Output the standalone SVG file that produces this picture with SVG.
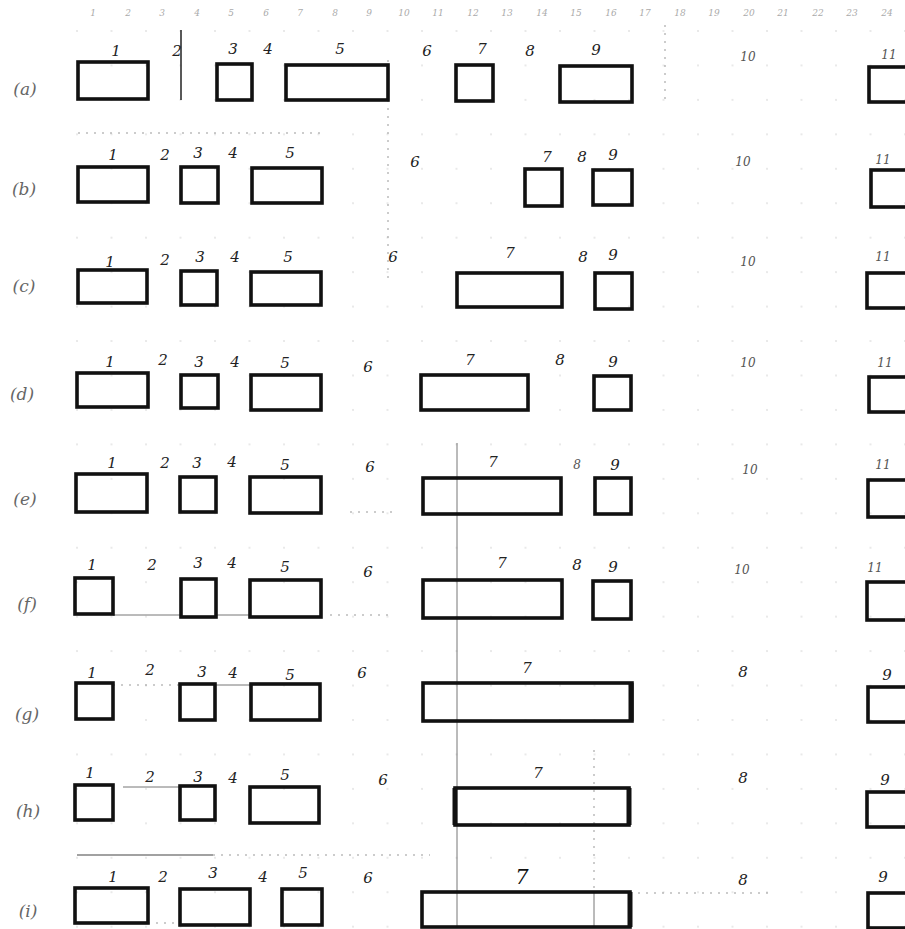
<svg xmlns="http://www.w3.org/2000/svg" width="905" height="929" viewBox="0 0 905 929">
<style>
.b{fill:none;stroke:#111;stroke-width:3.6;stroke-linejoin:miter}
.n{font-family:"DejaVu Serif","Liberation Serif",serif;font-style:italic;font-size:15px;fill:#222;text-anchor:middle}
.s{font-size:12px;fill:#555}
.r{font-family:"DejaVu Serif","Liberation Serif",serif;font-style:italic;font-size:17px;fill:#666;text-anchor:middle}
.t{font-family:"DejaVu Serif",serif;font-style:italic;font-size:9px;fill:#aaa;text-anchor:middle}
.g{stroke:#777;stroke-width:1;fill:none}
.d{stroke:#999;stroke-width:1;stroke-dasharray:2 6;fill:none}
</style>
<defs>
<pattern id="grid" patternUnits="userSpaceOnUse" x="7" y="30" width="34.5" height="34.45">
<circle cx="1" cy="1" r="0.7" fill="#c4c4c4"/>
</pattern>
</defs>
<rect width="905" height="929" fill="#fff"/>
<rect x="60" y="20" width="845" height="909" fill="url(#grid)"/>
<g id="scale">
<text class="t" x="93" y="16">1</text><text class="t" x="128" y="16">2</text><text class="t" x="162" y="16">3</text><text class="t" x="197" y="16">4</text><text class="t" x="231" y="16">5</text><text class="t" x="266" y="16">6</text><text class="t" x="300" y="16">7</text><text class="t" x="335" y="16">8</text><text class="t" x="369" y="16">9</text><text class="t" x="404" y="16">10</text><text class="t" x="438" y="16">11</text><text class="t" x="473" y="16">12</text><text class="t" x="507" y="16">13</text><text class="t" x="542" y="16">14</text><text class="t" x="576" y="16">15</text><text class="t" x="611" y="16">16</text><text class="t" x="645" y="16">17</text><text class="t" x="680" y="16">18</text><text class="t" x="714" y="16">19</text><text class="t" x="749" y="16">20</text><text class="t" x="783" y="16">21</text><text class="t" x="818" y="16">22</text><text class="t" x="852" y="16">23</text><text class="t" x="887" y="16">24</text>
</g>
<g id="connectors">
<line x1="181" y1="30" x2="181" y2="100" stroke="#222" stroke-width="1.5"/>
<line x1="388" y1="60" x2="388" y2="280" class="d"/>
<line x1="665" y1="25" x2="665" y2="100" class="d"/>
<line x1="457" y1="443" x2="457" y2="928" class="g"/>
<line x1="594" y1="750" x2="594" y2="892" class="d"/>
<line x1="594" y1="892" x2="594" y2="927" class="g"/>
<line x1="78" y1="133" x2="322" y2="133" class="d"/>
<line x1="77" y1="855" x2="213" y2="855" stroke="#444" stroke-width="1.2"/>
<line x1="213" y1="855" x2="430" y2="855" class="d"/>
<line x1="123" y1="787" x2="180" y2="787" class="g"/>
<line x1="113" y1="615" x2="181" y2="615" class="g"/>
<line x1="216" y1="615" x2="250" y2="615" class="g"/>
<line x1="330" y1="615" x2="392" y2="615" class="d"/>
<line x1="113" y1="685" x2="180" y2="685" class="d"/>
<line x1="215" y1="685" x2="251" y2="685" class="g"/>
<line x1="350" y1="512" x2="392" y2="512" class="d"/>
<line x1="630" y1="893" x2="770" y2="893" class="d"/>
<line x1="148" y1="923" x2="180" y2="923" class="d"/>
</g>
<g id="row-a">
<text class="r" x="25" y="95">(a)</text>
<g id="a1"><rect class="b" x="78" y="62" width="70" height="37"/><text class="n" x="116" y="56">1</text></g>
<text class="n" x="177" y="56">2</text>
<g id="a3"><rect class="b" x="217" y="64" width="35" height="36"/><text class="n" x="233" y="54">3</text></g>
<text class="n" x="268" y="54">4</text>
<g id="a5"><rect class="b" x="286" y="65" width="102" height="35"/><text class="n" x="340" y="54">5</text></g>
<text class="n" x="427" y="56">6</text>
<g id="a7"><rect class="b" x="456" y="65" width="37" height="36"/><text class="n" x="482" y="54">7</text></g>
<text class="n" x="530" y="56">8</text>
<g id="a9"><rect class="b" x="560" y="66" width="72" height="36"/><text class="n" x="596" y="55">9</text></g>
<text class="n s" x="748" y="61">10</text>
<g id="a11"><rect class="b" x="869" y="67" width="40" height="35"/><text class="n s" x="889" y="59">11</text></g>
</g>
<g id="row-b">
<text class="r" x="24" y="195">(b)</text>
<g id="b1"><rect class="b" x="78" y="167" width="70" height="35"/><text class="n" x="113" y="160">1</text></g>
<text class="n" x="165" y="160">2</text>
<g id="b3"><rect class="b" x="181" y="167" width="37" height="36"/><text class="n" x="198" y="158">3</text></g>
<text class="n" x="233" y="158">4</text>
<g id="b5"><rect class="b" x="252" y="168" width="70" height="35"/><text class="n" x="290" y="158">5</text></g>
<text class="n" x="415" y="167">6</text>
<g id="b7"><rect class="b" x="525" y="169" width="37" height="37"/><text class="n" x="547" y="162">7</text></g>
<text class="n" x="582" y="162">8</text>
<g id="b9"><rect class="b" x="593" y="170" width="39" height="35"/><text class="n" x="613" y="160">9</text></g>
<text class="n s" x="743" y="166">10</text>
<g id="b11"><rect class="b" x="871" y="170" width="38" height="37"/><text class="n s" x="883" y="164">11</text></g>
</g>
<g id="row-c">
<text class="r" x="24" y="292">(c)</text>
<g id="c1"><rect class="b" x="78" y="270" width="69" height="33"/><text class="n" x="110" y="267">1</text></g>
<text class="n" x="165" y="265">2</text>
<g id="c3"><rect class="b" x="181" y="271" width="36" height="34"/><text class="n" x="200" y="262">3</text></g>
<text class="n" x="235" y="262">4</text>
<g id="c5"><rect class="b" x="251" y="272" width="70" height="33"/><text class="n" x="288" y="262">5</text></g>
<text class="n" x="393" y="262">6</text>
<g id="c7"><rect class="b" x="457" y="273" width="105" height="34"/><text class="n" x="510" y="258">7</text></g>
<text class="n" x="583" y="262">8</text>
<g id="c9"><rect class="b" x="595" y="273" width="37" height="36"/><text class="n" x="613" y="260">9</text></g>
<text class="n s" x="748" y="266">10</text>
<g id="c11"><rect class="b" x="867" y="273" width="42" height="35"/><text class="n s" x="883" y="261">11</text></g>
</g>
<g id="row-d">
<text class="r" x="22" y="400">(d)</text>
<g id="d1"><rect class="b" x="77" y="373" width="71" height="34"/><text class="n" x="110" y="367">1</text></g>
<text class="n" x="163" y="365">2</text>
<g id="d3"><rect class="b" x="181" y="375" width="37" height="33"/><text class="n" x="199" y="367">3</text></g>
<text class="n" x="235" y="367">4</text>
<g id="d5"><rect class="b" x="251" y="375" width="70" height="35"/><text class="n" x="285" y="368">5</text></g>
<text class="n" x="368" y="372">6</text>
<g id="d7"><rect class="b" x="421" y="375" width="107" height="35"/><text class="n" x="470" y="365">7</text></g>
<text class="n" x="560" y="365">8</text>
<g id="d9"><rect class="b" x="594" y="376" width="37" height="34"/><text class="n" x="613" y="367">9</text></g>
<text class="n s" x="748" y="367">10</text>
<g id="d11"><rect class="b" x="869" y="377" width="40" height="35"/><text class="n s" x="885" y="367">11</text></g>
</g>
<g id="row-e">
<text class="r" x="25" y="505">(e)</text>
<g id="e1"><rect class="b" x="76" y="474" width="71" height="38"/><text class="n" x="112" y="468">1</text></g>
<text class="n" x="165" y="468">2</text>
<g id="e3"><rect class="b" x="180" y="477" width="36" height="35"/><text class="n" x="197" y="468">3</text></g>
<text class="n" x="232" y="467">4</text>
<g id="e5"><rect class="b" x="250" y="477" width="71" height="36"/><text class="n" x="285" y="470">5</text></g>
<text class="n" x="370" y="472">6</text>
<g id="e7"><rect class="b" x="423" y="478" width="138" height="36"/><text class="n" x="493" y="467">7</text></g>
<text class="n s" x="577" y="469">8</text>
<g id="e9"><rect class="b" x="595" y="478" width="36" height="36"/><text class="n" x="615" y="470">9</text></g>
<text class="n s" x="750" y="474">10</text>
<g id="e11"><rect class="b" x="868" y="480" width="41" height="37"/><text class="n s" x="883" y="469">11</text></g>
</g>
<g id="row-f">
<text class="r" x="27" y="610">(f)</text>
<g id="f1"><rect class="b" x="75" y="578" width="38" height="36"/><text class="n" x="92" y="570">1</text></g>
<text class="n" x="152" y="570">2</text>
<g id="f3"><rect class="b" x="181" y="579" width="35" height="38"/><text class="n" x="198" y="568">3</text></g>
<text class="n" x="232" y="568">4</text>
<g id="f5"><rect class="b" x="250" y="580" width="71" height="37"/><text class="n" x="285" y="572">5</text></g>
<text class="n" x="368" y="577">6</text>
<g id="f7"><rect class="b" x="423" y="580" width="139" height="38"/><text class="n" x="502" y="568">7</text></g>
<text class="n" x="577" y="570">8</text>
<g id="f9"><rect class="b" x="593" y="581" width="38" height="38"/><text class="n" x="613" y="572">9</text></g>
<text class="n s" x="742" y="574">10</text>
<g id="f11"><rect class="b" x="867" y="582" width="42" height="38"/><text class="n s" x="875" y="572">11</text></g>
</g>
<g id="row-g">
<text class="r" x="27" y="720">(g)</text>
<g id="g1"><rect class="b" x="76" y="683" width="37" height="36"/><text class="n" x="92" y="678">1</text></g>
<text class="n" x="150" y="675">2</text>
<g id="g3"><rect class="b" x="180" y="684" width="35" height="36"/><text class="n" x="202" y="677">3</text></g>
<text class="n" x="233" y="678">4</text>
<g id="g5"><rect class="b" x="251" y="684" width="69" height="36"/><text class="n" x="290" y="680">5</text></g>
<text class="n" x="362" y="678">6</text>
<g id="g7"><rect class="b" x="423" y="683" width="209" height="38"/><line x1="631" y1="683" x2="631" y2="721" stroke="#111" stroke-width="5"/><text class="n" x="527" y="673">7</text></g>
<text class="n" x="743" y="677">8</text>
<g id="g9"><rect class="b" x="868" y="687" width="41" height="35"/><text class="n" x="887" y="680">9</text></g>
</g>
<g id="row-h">
<text class="r" x="28" y="817">(h)</text>
<g id="h1"><rect class="b" x="75" y="785" width="38" height="35"/><text class="n" x="90" y="778">1</text></g>
<text class="n" x="150" y="782">2</text>
<g id="h3"><rect class="b" x="180" y="786" width="35" height="34"/><text class="n" x="198" y="782">3</text></g>
<text class="n" x="233" y="783">4</text>
<g id="h5"><rect class="b" x="250" y="787" width="69" height="36"/><text class="n" x="285" y="780">5</text></g>
<text class="n" x="383" y="785">6</text>
<g id="h7"><rect class="b" x="455" y="788" width="174" height="37"/><line x1="455" y1="788" x2="455" y2="825" stroke="#111" stroke-width="5"/><line x1="629" y1="788" x2="629" y2="825" stroke="#111" stroke-width="5"/><text class="n" x="538" y="778">7</text></g>
<text class="n" x="743" y="783">8</text>
<g id="h9"><rect class="b" x="867" y="792" width="42" height="35"/><text class="n" x="885" y="785">9</text></g>
</g>
<g id="row-i">
<text class="r" x="28" y="917">(i)</text>
<g id="i1"><rect class="b" x="75" y="888" width="73" height="35"/><text class="n" x="113" y="882">1</text></g>
<text class="n" x="163" y="882">2</text>
<g id="i3"><rect class="b" x="180" y="889" width="70" height="36"/><text class="n" x="213" y="878">3</text></g>
<text class="n" x="263" y="882">4</text>
<g id="i5"><rect class="b" x="282" y="889" width="40" height="36"/><text class="n" x="303" y="878">5</text></g>
<text class="n" x="368" y="883">6</text>
<g id="i7"><rect class="b" x="422" y="892" width="208" height="35"/><line x1="630" y1="892" x2="630" y2="927" stroke="#111" stroke-width="5"/><text class="n" x="522" y="884" style="font-size:21px;fill:#111">7</text></g>
<text class="n" x="743" y="885">8</text>
<g id="i9"><rect class="b" x="868" y="893" width="41" height="35"/><text class="n" x="883" y="882">9</text></g>
</g>
</svg>
